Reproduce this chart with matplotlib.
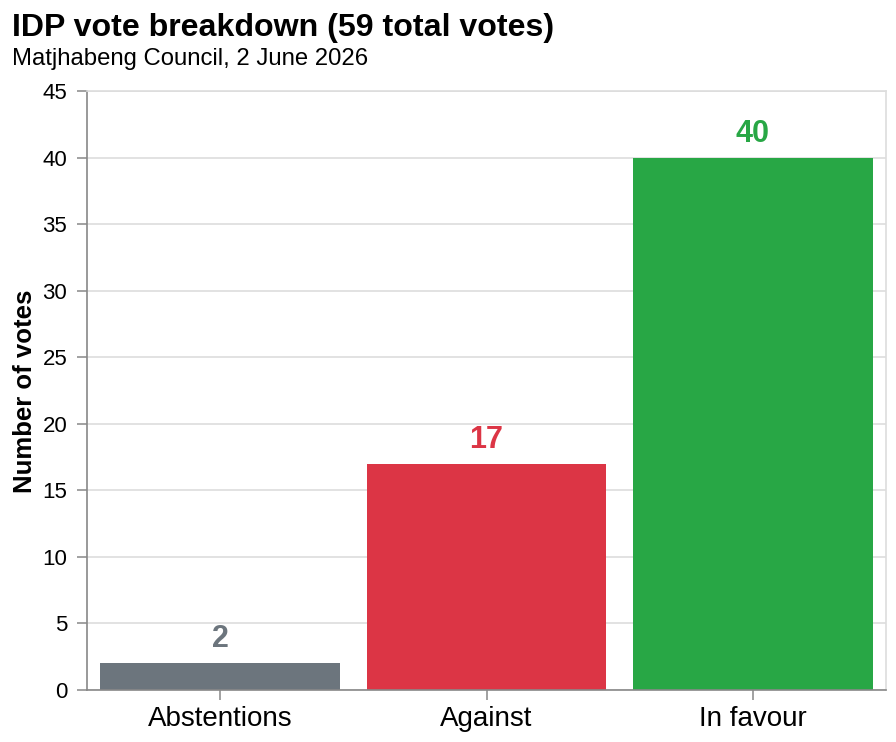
import matplotlib.pyplot as plt
import numpy as np

plt.rcParams['font.family'] = ['Liberation Sans', 'DejaVu Sans']

# data
categories = ["Abstentions", "Against", "In favour"]
votes = [2, 17, 40]
colors = ["#6c757d", "#dc3545", "#28a745"]

W, H = 896, 742
fig = plt.figure(figsize=(W / 100, H / 100), dpi=100)
ax = fig.add_axes([87 / W, 1 - 690 / H, (886 - 87) / W, (690 - 91) / H])

x = np.arange(len(categories))
ax.bar(x, votes, width=0.9, color=colors, zorder=2)

for xi, v, c in zip(x, votes, colors):
    ax.annotate(str(v), (xi, v), xytext=(0, 11.5), textcoords="offset points",
                ha="center", va="baseline", fontsize=22, fontweight="bold", color=c)

ax.set_xlim(-0.5, len(categories) - 0.5)
ax.set_ylim(0, 45)
ax.set_yticks(np.arange(0, 46, 5))
ax.set_xticks(x)
ax.set_xticklabels(categories)
ax.grid(axis="y", color="#dddddd", linewidth=1.2, zorder=0)
ax.set_axisbelow(True)

ax.tick_params(axis="y", length=7.2, width=1.1, color="#888888", pad=7, labelsize=16)
ax.tick_params(axis="x", length=7.2, width=1.1, color="#888888", pad=4, labelsize=20)

for s in ["left", "bottom"]:
    ax.spines[s].set_color("#888888")
    ax.spines[s].set_linewidth(1.2)
for s in ["top", "right"]:
    ax.spines[s].set_color("#dddddd")
    ax.spines[s].set_linewidth(1.2)

fig.text(25 / W, 1 - 391.5 / H, "Number of votes", rotation=90, ha="center", va="center",
         fontsize=18.5, fontweight="bold")
fig.text(12 / W, 1 - 36 / H, "IDP vote breakdown (59 total votes)", ha="left", va="baseline",
         fontsize=23.1, fontweight="bold")
fig.text(12 / W, 1 - 65 / H, "Matjhabeng Council, 2 June 2026", ha="left", va="baseline",
         fontsize=17.2)

fig.savefig("out.png", dpi=100)
